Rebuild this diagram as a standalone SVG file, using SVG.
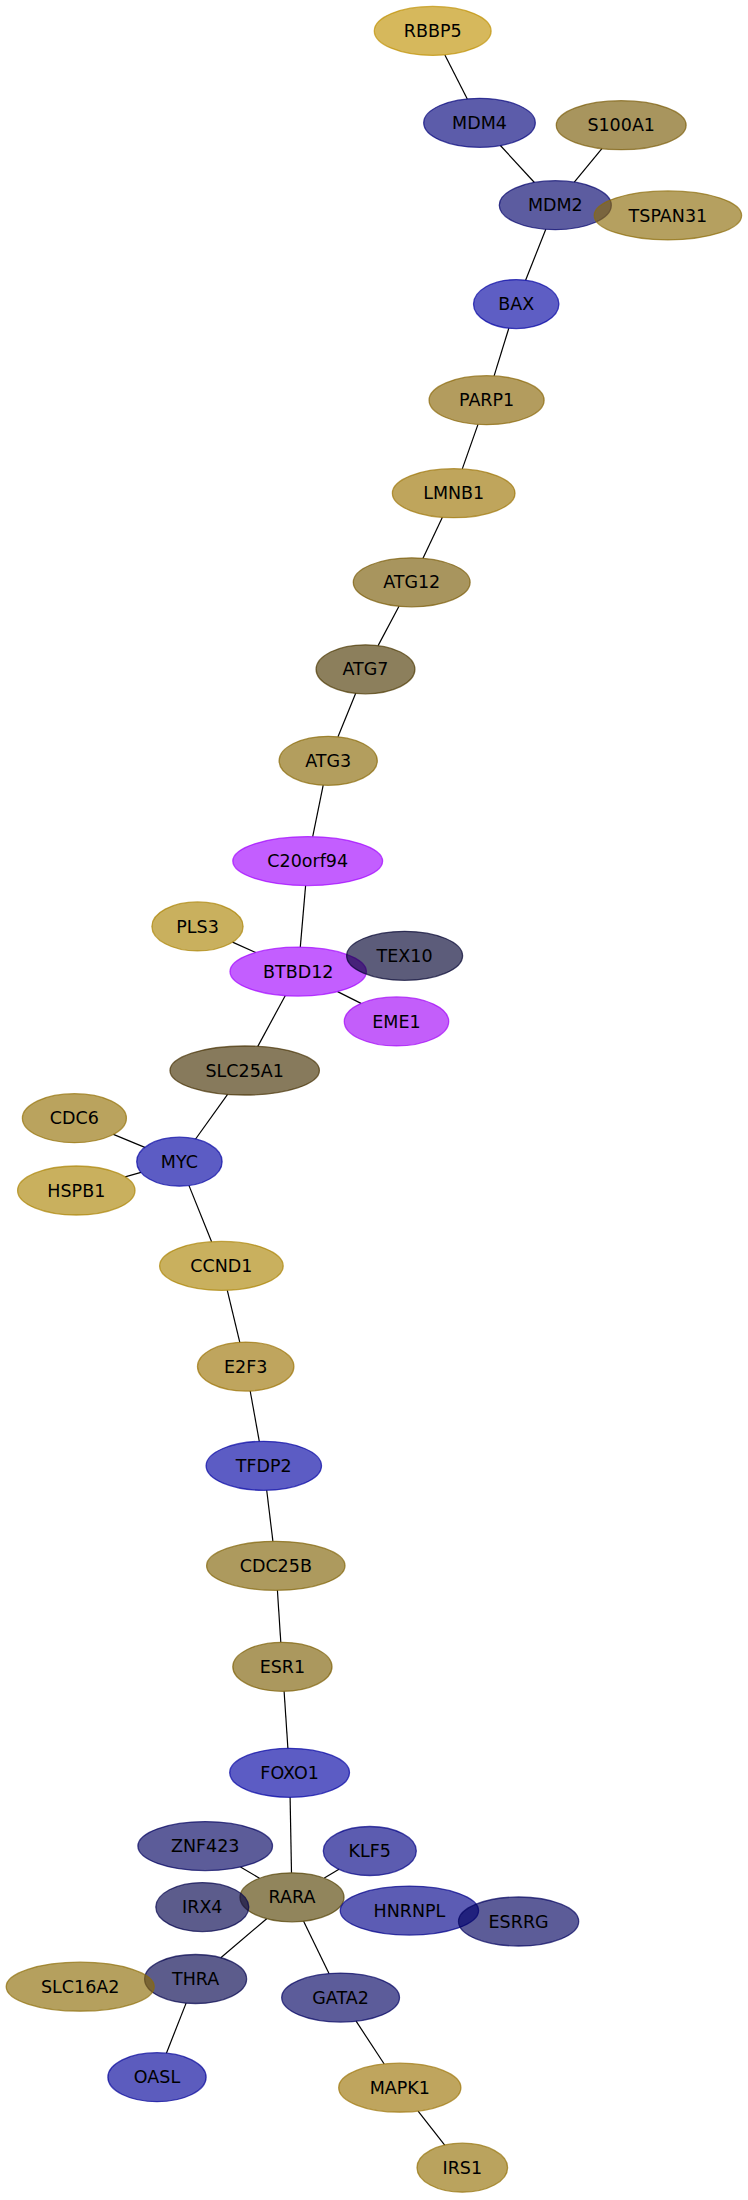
<svg xmlns="http://www.w3.org/2000/svg" width="748" height="2200" viewBox="0 0 748 2200">
<style>
.bg{fill:#ffffff}
.e{stroke:#000000;stroke-width:1.2;fill:none}
.n ellipse{fill-opacity:0.64;stroke-opacity:0.7;stroke-width:1.3}
.n text{font-family:"DejaVu Sans","Liberation Sans",sans-serif;font-size:17.5px;fill:#000000;text-anchor:middle}
</style>
<rect class="bg" x="0" y="0" width="748" height="2200"/>
<g id="edges">
<line class="e" x1="444.9" y1="54.9" x2="467.3" y2="98.9"/>
<line class="e" x1="500.4" y1="145.5" x2="534.4" y2="182.5"/>
<line class="e" x1="601.9" y1="148.6" x2="574.3" y2="182.2"/>
<line class="e" x1="545.8" y1="229.3" x2="525.6" y2="280.2"/>
<line class="e" x1="508.8" y1="328.2" x2="494.1" y2="375.9"/>
<line class="e" x1="478" y1="424.4" x2="462.3" y2="468.9"/>
<line class="e" x1="442.4" y1="517.3" x2="423" y2="558.3"/>
<line class="e" x1="399" y1="606.2" x2="378.1" y2="645.6"/>
<line class="e" x1="355.7" y1="693.3" x2="338" y2="736.8"/>
<line class="e" x1="323.2" y1="785.2" x2="312.7" y2="836.7"/>
<line class="e" x1="305.6" y1="885.6" x2="300.3" y2="947.1"/>
<line class="e" x1="232.5" y1="942.1" x2="255.6" y2="952.5"/>
<line class="e" x1="337.6" y1="991.6" x2="361" y2="1003.4"/>
<line class="e" x1="285.2" y1="995.7" x2="257.8" y2="1046.4"/>
<line class="e" x1="227.6" y1="1094.3" x2="195.6" y2="1139"/>
<line class="e" x1="113.4" y1="1134.4" x2="144.8" y2="1147.4"/>
<line class="e" x1="125.1" y1="1176.9" x2="141" y2="1172.4"/>
<line class="e" x1="189" y1="1185.6" x2="211.6" y2="1241.7"/>
<line class="e" x1="227.3" y1="1290.3" x2="239.8" y2="1342.3"/>
<line class="e" x1="250.2" y1="1391" x2="259.3" y2="1441.4"/>
<line class="e" x1="266.7" y1="1490.3" x2="272.9" y2="1541.3"/>
<line class="e" x1="277.4" y1="1590.3" x2="280.8" y2="1642.3"/>
<line class="e" x1="284.1" y1="1691.3" x2="287.9" y2="1748.3"/>
<line class="e" x1="290.1" y1="1797.3" x2="291.5" y2="1872.8"/>
<line class="e" x1="240.5" y1="1866.9" x2="259.5" y2="1878.2"/>
<line class="e" x1="339" y1="1869.3" x2="324.3" y2="1878.1"/>
<line class="e" x1="266.7" y1="1918.7" x2="220.8" y2="1957.7"/>
<line class="e" x1="303.6" y1="1921.2" x2="329" y2="1973.6"/>
<line class="e" x1="186.1" y1="2003.1" x2="166.4" y2="2053.2"/>
<line class="e" x1="356.1" y1="2021.2" x2="384.2" y2="2064"/>
<line class="e" x1="418.1" y1="2111.1" x2="444.7" y2="2145.1"/>
</g>
<g id="node-RBBP5" class="n"><ellipse cx="432.7" cy="30.9" rx="58.4" ry="24.5" fill="#bf9000" stroke="#bf9000"/><text x="432.7" y="37">RBBP5</text></g>
<g id="node-MDM4" class="n"><ellipse cx="479.5" cy="122.8" rx="55.8" ry="24.5" fill="#00007a" stroke="#00007a"/><text x="479.5" y="129">MDM4</text></g>
<g id="node-S100A1" class="n"><ellipse cx="621.2" cy="125.2" rx="64.9" ry="24.5" fill="#775903" stroke="#775903"/><text x="621.2" y="131.3">S100A1</text></g>
<g id="node-MDM2" class="n"><ellipse cx="555.3" cy="205.2" rx="56" ry="24.5" fill="#00006b" stroke="#00006b"/><text x="555.3" y="211.3">MDM2</text></g>
<g id="node-TSPAN31" class="n"><ellipse cx="667.9" cy="215.4" rx="73.7" ry="24.5" fill="#8b6b07" stroke="#8b6b07"/><text x="667.9" y="221.5">TSPAN31</text></g>
<g id="node-BAX" class="n"><ellipse cx="516.2" cy="304.1" rx="42.7" ry="24.5" fill="#0303a3" stroke="#0303a3"/><text x="516.2" y="310.2">BAX</text></g>
<g id="node-PARP1" class="n"><ellipse cx="486.6" cy="400.2" rx="57.5" ry="24.5" fill="#886403" stroke="#886403"/><text x="486.6" y="406.3">PARP1</text></g>
<g id="node-LMNB1" class="n"><ellipse cx="453.7" cy="493.2" rx="61.3" ry="24.5" fill="#9b7200" stroke="#9b7200"/><text x="453.7" y="499.3">LMNB1</text></g>
<g id="node-ATG12" class="n"><ellipse cx="411.7" cy="582.3" rx="58.4" ry="24.5" fill="#775903" stroke="#775903"/><text x="411.7" y="588.4">ATG12</text></g>
<g id="node-ATG7" class="n"><ellipse cx="365.5" cy="669.3" rx="49.4" ry="24.5" fill="#4b3700" stroke="#4b3700"/><text x="365.5" y="675.4">ATG7</text></g>
<g id="node-ATG3" class="n"><ellipse cx="328.2" cy="760.8" rx="49.1" ry="24.5" fill="#886703" stroke="#886703"/><text x="328.2" y="766.9">ATG3</text></g>
<g id="node-C20orf94" class="n"><ellipse cx="307.7" cy="861.1" rx="74.9" ry="24.5" fill="#a103ff" stroke="#a103ff"/><text x="307.7" y="867.2">C20orf94</text></g>
<g id="node-PLS3" class="n"><ellipse cx="197.5" cy="926.4" rx="45.6" ry="24.5" fill="#ab8303" stroke="#ab8303"/><text x="197.5" y="932.5">PLS3</text></g>
<g id="node-BTBD12" class="n"><ellipse cx="298.2" cy="971.6" rx="68.2" ry="24.5" fill="#a103ff" stroke="#a103ff"/><text x="298.2" y="977.7">BTBD12</text></g>
<g id="node-TEX10" class="n"><ellipse cx="404.6" cy="955.8" rx="58" ry="24.5" fill="#00002f" stroke="#00002f"/><text x="404.6" y="961.9">TEX10</text></g>
<g id="node-EME1" class="n"><ellipse cx="396.5" cy="1021.4" rx="52.2" ry="24.5" fill="#a103f7" stroke="#a103f7"/><text x="396.5" y="1027.5">EME1</text></g>
<g id="node-SLC25A1" class="n"><ellipse cx="244.7" cy="1070.5" rx="74.7" ry="24.5" fill="#442f00" stroke="#442f00"/><text x="244.7" y="1076.6">SLC25A1</text></g>
<g id="node-CDC6" class="n"><ellipse cx="74.4" cy="1118.2" rx="52" ry="24.5" fill="#936f03" stroke="#936f03"/><text x="74.4" y="1124.3">CDC6</text></g>
<g id="node-MYC" class="n"><ellipse cx="179.4" cy="1161.7" rx="42.7" ry="24.5" fill="#0000a3" stroke="#0000a3"/><text x="179.4" y="1167.8">MYC</text></g>
<g id="node-HSPB1" class="n"><ellipse cx="76.3" cy="1190.5" rx="58.7" ry="24.5" fill="#ab8303" stroke="#ab8303"/><text x="76.3" y="1196.6">HSPB1</text></g>
<g id="node-CCND1" class="n"><ellipse cx="221.4" cy="1265.9" rx="61.8" ry="24.5" fill="#ab8303" stroke="#ab8303"/><text x="221.4" y="1272">CCND1</text></g>
<g id="node-E2F3" class="n"><ellipse cx="245.7" cy="1366.6" rx="48.2" ry="24.5" fill="#9b7203" stroke="#9b7203"/><text x="245.7" y="1372.7">E2F3</text></g>
<g id="node-TFDP2" class="n"><ellipse cx="263.8" cy="1465.8" rx="57.7" ry="24.5" fill="#0000a3" stroke="#0000a3"/><text x="263.8" y="1471.9">TFDP2</text></g>
<g id="node-CDC25B" class="n"><ellipse cx="275.8" cy="1565.8" rx="69.2" ry="24.5" fill="#7f6103" stroke="#7f6103"/><text x="275.8" y="1571.9">CDC25B</text></g>
<g id="node-ESR1" class="n"><ellipse cx="282.4" cy="1666.8" rx="49.6" ry="24.5" fill="#7c5e03" stroke="#7c5e03"/><text x="282.4" y="1672.9">ESR1</text></g>
<g id="node-FOXO1" class="n"><ellipse cx="289.6" cy="1772.8" rx="59.9" ry="24.5" fill="#0000a3" stroke="#0000a3"/><text x="289.6" y="1778.9">FOXO1</text></g>
<g id="node-ZNF423" class="n"><ellipse cx="205.2" cy="1846.1" rx="67.3" ry="24.5" fill="#000060" stroke="#000060"/><text x="205.2" y="1852.2">ZNF423</text></g>
<g id="node-KLF5" class="n"><ellipse cx="369.8" cy="1851" rx="46.5" ry="24.5" fill="#000084" stroke="#000084"/><text x="369.8" y="1857.1">KLF5</text></g>
<g id="node-RARA" class="n"><ellipse cx="292" cy="1897.3" rx="52" ry="24.5" fill="#534000" stroke="#534000"/><text x="292" y="1903.4">RARA</text></g>
<g id="node-IRX4" class="n"><ellipse cx="202.3" cy="1907.1" rx="46.5" ry="24.5" fill="#00004b" stroke="#00004b"/><text x="202.3" y="1913.2">IRX4</text></g>
<g id="node-HNRNPL" class="n"><ellipse cx="409.4" cy="1910.6" rx="69.2" ry="24.5" fill="#00008a" stroke="#00008a"/><text x="409.4" y="1916.7">HNRNPL</text></g>
<g id="node-ESRRG" class="n"><ellipse cx="518.6" cy="1921.5" rx="60.1" ry="24.5" fill="#00005e" stroke="#00005e"/><text x="518.6" y="1927.6">ESRRG</text></g>
<g id="node-THRA" class="n"><ellipse cx="195.6" cy="1979" rx="51" ry="24.5" fill="#00004b" stroke="#00004b"/><text x="195.6" y="1985.1">THRA</text></g>
<g id="node-SLC16A2" class="n"><ellipse cx="80.2" cy="1986.7" rx="74" ry="24.5" fill="#8b6b03" stroke="#8b6b03"/><text x="80.2" y="1992.8">SLC16A2</text></g>
<g id="node-GATA2" class="n"><ellipse cx="340.6" cy="1997.6" rx="58.9" ry="24.5" fill="#000061" stroke="#000061"/><text x="340.6" y="2003.7">GATA2</text></g>
<g id="node-OASL" class="n"><ellipse cx="157" cy="2077.2" rx="49.1" ry="24.5" fill="#000099" stroke="#000099"/><text x="157" y="2083.3">OASL</text></g>
<g id="node-MAPK1" class="n"><ellipse cx="399.8" cy="2087.7" rx="61.1" ry="24.5" fill="#9b7203" stroke="#9b7203"/><text x="399.8" y="2093.8">MAPK1</text></g>
<g id="node-IRS1" class="n"><ellipse cx="462.3" cy="2167.7" rx="45.3" ry="24.5" fill="#936f03" stroke="#936f03"/><text x="462.3" y="2173.8">IRS1</text></g>
</svg>
